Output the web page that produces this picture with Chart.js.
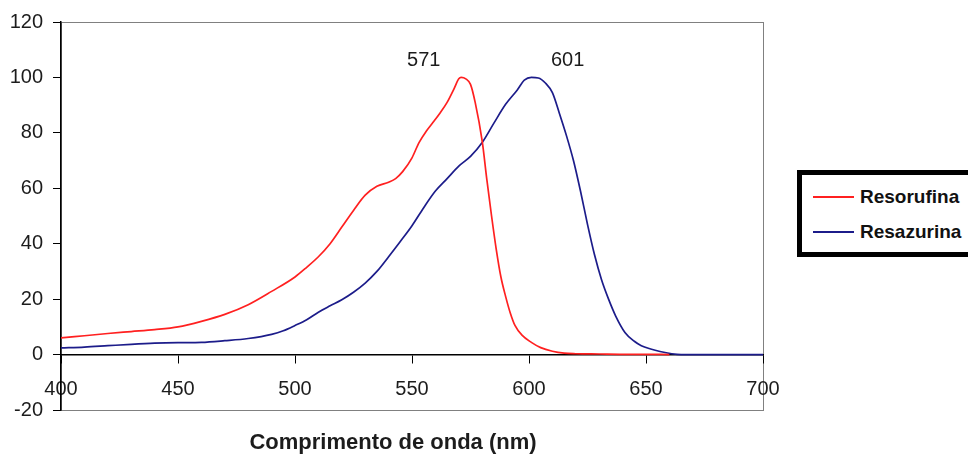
<!DOCTYPE html>
<html>
<head>
<meta charset="utf-8">
<script src="https://cdn.jsdelivr.net/npm/chart.js@4/dist/chart.umd.min.js"></script>
<style>
  html, body { margin: 0; padding: 0; background: #fff; overflow: hidden; }
  #wrap { position: relative; width: 968px; height: 456px; }
  #legend {
    position: absolute; left: 797px; top: 170px; width: 200px; height: 87px;
    box-sizing: border-box; border: 5px solid #000; background: #fff;
    font: bold 19px "Liberation Sans", Arial, sans-serif; color: #111;
  }
  .item { position: absolute; left: 11px; height: 20px; display: flex; align-items: center; }
  .item span.swatch { display: inline-block; width: 41px; height: 2px; margin-right: 6px; }
</style>
</head>
<body>
<div id="wrap">
  <canvas id="chart" width="968" height="456"></canvas>
  <div id="legend">
    <div class="item" style="top:12px"><span class="swatch" style="background:#ff2020"></span>Resorufina</div>
    <div class="item" style="top:47px"><span class="swatch" style="background:#1c1c8a"></span>Resazurina</div>
  </div>
</div>
<script>
// wavelengths (nm) and relative intensity (%)
const resorufinaNm = [400, 410, 420, 430, 440, 450, 460, 470, 480, 490, 500, 505, 510, 515, 520, 525, 530, 535, 540, 543, 546, 550, 553, 556, 559, 562, 565, 568, 570, 571, 573, 575, 577, 580, 582, 584, 586, 588, 590, 592, 594, 597, 601, 605, 610, 615, 620, 630, 640, 650, 660];
const resorufinaVal = [6.0, 6.8, 7.6, 8.3, 9.0, 10.0, 12.0, 14.5, 18.0, 22.8, 28.0, 31.5, 35.3, 40.0, 46.0, 52.0, 57.5, 60.7, 62.2, 63.5, 66.0, 71.0, 76.5, 80.5, 83.8, 87.2, 91.0, 96.0, 99.5, 100, 99.5, 97.5, 91.0, 77.0, 63.0, 50.0, 38.0, 28.0, 21.0, 15.0, 10.5, 7.0, 4.4, 2.5, 1.2, 0.5, 0.3, 0.2, 0.1, 0.1, 0];

const resazurinaNm = [400, 410, 420, 430, 440, 450, 460, 470, 480, 490, 495, 500, 505, 510, 515, 520, 525, 530, 535, 540, 545, 550, 555, 560, 565, 570, 575, 580, 585, 590, 595, 598, 601, 604, 607, 610, 613, 616, 619, 622, 625, 628, 631, 634, 637, 641, 645, 648, 652, 656, 661, 665, 680, 700];
const resazurinaVal = [2.4, 2.7, 3.2, 3.7, 4.1, 4.3, 4.4, 5.0, 5.8, 7.3, 8.6, 10.5, 12.6, 15.3, 17.6, 19.8, 22.5, 25.8, 30.0, 35.3, 40.8, 46.5, 53.0, 59.0, 63.5, 68.0, 71.5, 76.5, 83.5, 90.3, 95.5, 99.0, 100, 99.8, 98.0, 94.5, 87.0, 79.0, 70.0, 59.0, 47.0, 36.0, 27.0, 20.0, 14.0, 8.0, 4.8, 3.2, 2.0, 1.1, 0.3, 0, 0, 0];

// peak labels
const peakLabels = ["571", "601"];
const peakX = [555, 616.5];
const peakY = [106, 106];

const xTicks = [400, 450, 500, 550, 600, 650, 700];
const xTitle = "Comprimento de onda (nm)";

const FONT = '"Liberation Sans", Arial, sans-serif';

function toPoints(xs, ys) {
  return xs.map((x, i) => ({ x: x, y: ys[i] }));
}

const framePlugin = {
  id: "frame",
  beforeDraw(chart) {
    const { ctx, chartArea } = chart;
    ctx.save();
    ctx.strokeStyle = "#808080";
    ctx.lineWidth = 1;
    ctx.strokeRect(chartArea.left + 0.5, chartArea.top + 0.5, chartArea.right - chartArea.left, chartArea.bottom - chartArea.top);
    ctx.restore();
  },
  afterDraw(chart) {
    const { ctx, scales } = chart;
    ctx.save();
    ctx.fillStyle = "#1c1c1c";
    ctx.textAlign = "center";
    ctx.textBaseline = "middle";
    ctx.font = "20px " + FONT;
    peakLabels.forEach((t, i) => {
      ctx.fillText(t, scales.x.getPixelForValue(peakX[i]), scales.y.getPixelForValue(peakY[i]));
    });
    ctx.font = "bold 22px " + FONT;
    ctx.fillText(xTitle, 393, 443);
    ctx.restore();
  }
};

new Chart(document.getElementById("chart"), {
  type: "line",
  data: {
    datasets: [
      {
        label: "Resorufina",
        data: toPoints(resorufinaNm, resorufinaVal),
        borderColor: "#ff2020",
        borderWidth: 1.7,
        pointRadius: 0,
        cubicInterpolationMode: "monotone",
      },
      {
        label: "Resazurina",
        data: toPoints(resazurinaNm, resazurinaVal),
        borderColor: "#1c1c8a",
        borderWidth: 1.7,
        pointRadius: 0,
        cubicInterpolationMode: "monotone",
      },
    ],
  },
  options: {
    responsive: false,
    animation: false,
    devicePixelRatio: 1,
    layout: { padding: { left: 0, top: 21, right: 205, bottom: 46 } },
    plugins: {
      legend: { display: false },
      tooltip: { enabled: false },
    },
    scales: {
      x: {
        type: "linear",
        position: { y: 0 },
        min: 400,
        max: 700,
        afterBuildTicks(scale) {
          scale.ticks = xTicks.map((v) => ({ value: v }));
        },
        grid: { drawOnChartArea: false, tickLength: 8, color: "#000", tickWidth: 1 },
        border: { color: "#000", width: 1.5 },
        ticks: { color: "#1c1c1c", font: { family: FONT, size: 20 }, padding: 15, maxRotation: 0, autoSkip: false },
      },
      y: {
        min: -20,
        max: 120,
        afterFit(scale) {
          scale.width = 61;
        },
        grid: { drawOnChartArea: false, tickLength: 8, color: "#000", tickWidth: 1 },
        border: { color: "#000", width: 1.5 },
        ticks: { stepSize: 20, color: "#1c1c1c", font: { family: FONT, size: 20 }, padding: 10 },
      },
    },
  },
  plugins: [framePlugin],
});
</script>
</body>
</html>
